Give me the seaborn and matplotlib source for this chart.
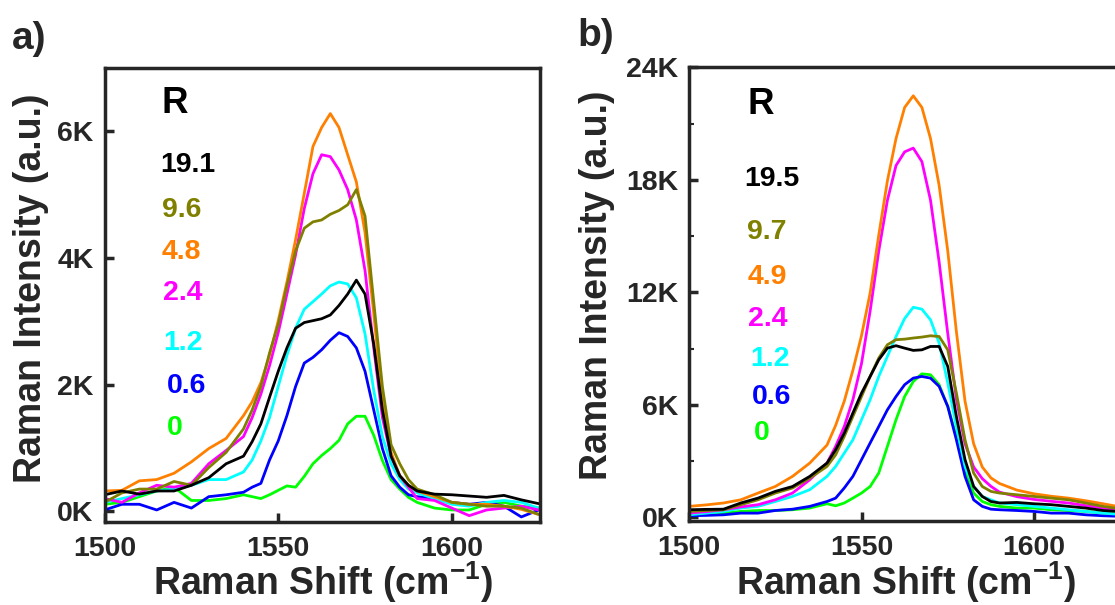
import matplotlib
matplotlib.use("Agg")
import matplotlib.pyplot as plt
import numpy as np
import pandas as pd
import seaborn as sns
from matplotlib.ticker import FuncFormatter, MultipleLocator, FixedLocator

# ---------------- data (intensity in K counts) ----------------
shift = [1500, 1505, 1510, 1515, 1520, 1525, 1530, 1535,
         1540, 1542.5, 1545, 1547.5, 1550, 1552.5, 1555, 1557.5, 1560, 1562.5,
         1565, 1567.5, 1570, 1572.5, 1575, 1577.5, 1580, 1582.5, 1585, 1587.5, 1590,
         1595, 1600, 1605, 1610, 1615, 1620, 1625]

labels_a = ["19.1", "9.6", "4.8", "2.4", "1.2", "0.6", "0"]
labels_b = ["19.5", "9.7", "4.9", "2.4", "1.2", "0.6", "0"]
colors = ["#000000", "#808000", "#FF8000", "#FF00FF", "#00FFFF", "#0000FF", "#00FF00"]

# panel a
a_191 = [0.26, 0.32, 0.27, 0.32, 0.32, 0.41, 0.53, 0.75,
         0.87, 1.10, 1.38, 1.80, 2.21, 2.58, 2.89, 2.98, 3.01, 3.04, 3.10, 3.25, 3.43, 3.65, 3.43, 2.64,
         1.60, 0.87, 0.56, 0.41, 0.32,
         0.27, 0.26, 0.24, 0.22, 0.25, 0.18, 0.12]
a_96 = [0.14, 0.29, 0.35, 0.35, 0.47, 0.41, 0.69, 0.93,
        1.30, 1.60, 1.97, 2.50, 2.95, 3.56, 4.11, 4.47, 4.57, 4.60, 4.69, 4.75, 4.84, 5.08, 4.66, 3.31,
        1.97, 1.05, 0.75, 0.50, 0.35,
        0.26, 0.14, 0.11, 0.08, 0.08, 0.05, -0.05]
a_48 = [0.32, 0.33, 0.48, 0.50, 0.60, 0.78, 0.99, 1.15,
        1.51, 1.73, 2.03, 2.46, 3.01, 3.62, 4.29, 5.02, 5.76, 6.06, 6.28, 6.06, 5.63, 5.20, 4.40, 3.13,
        1.73, 0.93, 0.56, 0.41, 0.32,
        0.23, 0.14, 0.11, 0.11, 0.08, 0.03, -0.05]
a_24 = [0.20, 0.14, 0.29, 0.41, 0.38, 0.44, 0.75, 0.96,
        1.18, 1.48, 1.85, 2.30, 2.82, 3.43, 4.05, 4.78, 5.33, 5.63, 5.60, 5.39, 5.08, 4.60, 3.80, 2.58,
        1.48, 0.87, 0.56, 0.38, 0.20,
        0.17, 0.05, -0.07, 0.02, 0.05, 0.08, 0.02]
a_12 = [0.14, 0.20, 0.26, 0.32, 0.35, 0.41, 0.50, 0.50,
        0.62, 0.81, 1.11, 1.48, 1.97, 2.46, 2.89, 3.19, 3.31, 3.43, 3.56, 3.62, 3.59, 3.37, 2.80, 1.91,
        1.18, 0.75, 0.50, 0.35, 0.29,
        0.20, 0.11, 0.08, 0.14, 0.17, 0.14, 0.05]
a_06 = [0.02, 0.11, 0.11, 0.02, 0.14, 0.05, 0.23, 0.26,
        0.30, 0.38, 0.44, 0.81, 1.11, 1.51, 1.97, 2.34, 2.43, 2.55, 2.70, 2.82, 2.76, 2.58, 2.21, 1.60,
        0.99, 0.56, 0.38, 0.26, 0.23,
        0.20, 0.14, 0.11, 0.14, 0.08, -0.09, 0.02]
a_0 = [0.11, 0.14, 0.23, 0.32, 0.38, 0.17, 0.17, 0.20,
       0.26, 0.23, 0.20, 0.26, 0.33, 0.40, 0.38, 0.55, 0.75, 0.88, 0.99, 1.12, 1.38, 1.50, 1.50, 1.20,
       0.80, 0.50, 0.35, 0.22, 0.14,
       0.05, 0.02, 0.02, 0.11, 0.14, 0.08, 0.05]

# panel b
b_195 = [0.40, 0.42, 0.43, 0.76, 1.02, 1.38, 1.64, 2.18,
         2.89, 3.60, 4.49, 5.56, 6.62, 7.51, 8.40, 9.02, 9.15, 9.02, 8.90, 8.93, 9.11, 9.11, 8.04, 5.38,
         3.07, 1.64, 1.11, 0.84, 0.76,
         0.79, 0.72, 0.67, 0.58, 0.49, 0.36, 0.30]
b_97 = [0.31, 0.36, 0.40, 0.67, 0.93, 1.29, 1.56, 2.09,
        2.71, 3.33, 4.31, 5.38, 6.44, 7.51, 8.49, 9.20, 9.47, 9.50, 9.56, 9.61, 9.68, 9.64, 8.93, 6.62,
        4.13, 2.36, 1.64, 1.38, 1.29,
        1.20, 1.11, 1.02, 0.93, 0.76, 0.58, 0.45]
b_49 = [0.58, 0.66, 0.76, 0.93, 1.29, 1.64, 2.18, 2.89,
        3.85, 4.90, 6.19, 7.84, 9.69, 11.96, 15.05, 17.94, 20.20, 21.86, 22.48, 21.86, 20.20, 17.70, 14.20, 9.90,
        6.19, 3.92, 2.68, 2.10, 1.80,
        1.45, 1.25, 1.12, 1.02, 0.88, 0.72, 0.55]
b_24 = [0.22, 0.30, 0.40, 0.55, 0.67, 0.93, 1.29, 2.00,
        2.89, 3.78, 4.84, 6.27, 8.20, 11.00, 14.20, 16.90, 18.76, 19.49, 19.69, 18.97, 16.91, 13.61, 9.80, 6.30,
        3.92, 2.68, 2.06, 1.65, 1.34,
        1.10, 0.95, 0.85, 0.76, 0.62, 0.49, 0.38]
b_12 = [0.13, 0.22, 0.31, 0.49, 0.58, 0.84, 1.11, 1.47,
        2.18, 2.71, 3.42, 4.13, 5.20, 6.27, 7.51, 8.58, 9.64, 10.60, 11.20, 11.10, 10.53, 9.29, 7.16, 4.84,
        2.71, 1.64, 1.11, 0.93, 0.76,
        0.67, 0.58, 0.49, 0.40, 0.31, 0.22, 0.15]
b_06 = [0.08, 0.10, 0.13, 0.22, 0.22, 0.36, 0.43, 0.58,
        0.84, 1.02, 1.56, 2.18, 3.07, 3.96, 4.84, 5.73, 6.44, 7.07, 7.42, 7.51, 7.42, 6.98, 5.91, 4.13,
        2.18, 0.93, 0.58, 0.43, 0.40,
        0.36, 0.31, 0.22, 0.22, 0.13, 0.08, 0.05]
b_0 = [0.13, 0.18, 0.22, 0.31, 0.36, 0.36, 0.40, 0.49,
       0.72, 0.61, 0.76, 1.02, 1.29, 1.64, 2.36, 3.78, 5.20, 6.44, 7.24, 7.65, 7.60, 7.07, 5.91, 4.31,
       2.53, 1.29, 0.84, 0.67, 0.58,
       0.49, 0.49, 0.40, 0.36, 0.31, 0.22, 0.15]

series_a = [a_191, a_96, a_48, a_24, a_12, a_06, a_0]
series_b = [b_195, b_97, b_49, b_24, b_12, b_06, b_0]

# ---------------- style ----------------
sns.set_style("ticks")
plt.rcParams["font.family"] = ["Liberation Sans", "DejaVu Sans"]
plt.rcParams["font.weight"] = "bold"
plt.rcParams["axes.labelweight"] = "bold"
plt.rcParams["mathtext.fontset"] = "custom"
plt.rcParams["mathtext.rm"] = "Liberation Sans:bold"
plt.rcParams["mathtext.bf"] = "Liberation Sans:bold"
plt.rcParams["mathtext.it"] = "Liberation Sans:bold"

W, H = 1115, 605
fig = plt.figure(figsize=(W / 100, H / 100), dpi=100)
ax_a = fig.add_axes([104.6 / W, 1 - 522 / H, 435.8 / W, 454 / H])
ax_b = fig.add_axes([689 / W, 1 - 521 / H, 433 / W, 453.7 / H])


def long_df(series, labels):
    frames = []
    for lab, vals in zip(labels, series):
        frames.append(pd.DataFrame({"shift": shift, "intensity": vals, "R": lab}))
    return pd.concat(frames, ignore_index=True)


def draw(ax, series, labels, ylim, yticks, minor):
    df = long_df(series, labels)
    pal = dict(zip(labels, colors))
    sns.lineplot(data=df, x="shift", y="intensity", hue="R", hue_order=labels[::-1],
                 palette=pal, sort=False, estimator=None, linewidth=2.0,
                 legend=False, ax=ax)
    ax.set_xlim(1500, 1625.5)
    ax.set_ylim(*ylim)
    ax.xaxis.set_major_locator(FixedLocator([1500, 1550, 1600]))
    ax.yaxis.set_major_locator(FixedLocator(yticks))
    ax.yaxis.set_major_formatter(FuncFormatter(lambda v, p: f"{v:g}K"))
    ax.xaxis.set_major_formatter(FuncFormatter(lambda v, p: f"{v:g}"))
    if minor:
        ax.yaxis.set_minor_locator(MultipleLocator(minor))
        ax.tick_params(axis="y", which="minor", direction="in", length=3.5, width=1.5)
    for s in ax.spines.values():
        s.set_linewidth(2.5)
        s.set_visible(True)
    ax.tick_params(axis="both", which="major", direction="in", length=6.5, width=2.5,
                   labelsize=20.5)
    ax.tick_params(axis="y", which="major", pad=8)
    ax.tick_params(axis="x", which="major", pad=10)
    ax.set_xlabel(r"Raman Shift (cm$^{\mathbf{-1}}$)", fontsize=27, fontweight="bold")
    ax.set_ylabel("Raman Intensity (a.u.)", fontsize=27, fontweight="bold")
    ax.xaxis.label.set_va("baseline")
    ax.yaxis.label.set_va("center")


draw(ax_a, series_a, labels_a, (-0.17, 7.0), [0, 2, 4, 6], None)
draw(ax_b, series_b, labels_b, (-0.2, 24.0), [0, 6, 12, 18, 24], 3)

ax_a.xaxis.set_label_coords(0.5, -73 / 454)
ax_b.xaxis.set_label_coords(0.5, -74 / 453.7)
ax_a.yaxis.set_label_coords(-0.169, 0.515)
ax_b.yaxis.set_label_coords(-0.2125, 0.519)

# R annotations
ax_a.text(0.131, 0.901, "R", transform=ax_a.transAxes, fontsize=26.5, fontweight="bold",
          color="black", ha="left", va="baseline")
xa = [0.127, 0.131, 0.131, 0.134, 0.134, 0.142, 0.142]
ya = [0.772, 0.671, 0.579, 0.488, 0.378, 0.285, 0.192]
for lab, c, x, y in zip(labels_a, colors, xa, ya):
    ax_a.text(x, y, lab, transform=ax_a.transAxes, fontsize=20.5, fontweight="bold",
              color=c, ha="left", va="baseline")

ax_b.text(0.136, 0.898, "R", transform=ax_b.transAxes, fontsize=26.5, fontweight="bold",
          color="black", ha="left", va="baseline")
xb = [0.128, 0.135, 0.136, 0.136, 0.141, 0.145, 0.149]
yb = [0.738, 0.621, 0.522, 0.430, 0.341, 0.257, 0.178]
for lab, c, x, y in zip(labels_b, colors, xb, yb):
    ax_b.text(x, y, lab, transform=ax_b.transAxes, fontsize=20.5, fontweight="bold",
              color=c, ha="left", va="baseline")

fig.text(12 / W, 1 - 49 / H, "a)", fontsize=28, fontweight="bold", ha="left", va="baseline")
fig.text(577 / W, 1 - 45.5 / H, "b)", fontsize=28, fontweight="bold", ha="left", va="baseline")

fig.savefig("out.png", dpi=100)
